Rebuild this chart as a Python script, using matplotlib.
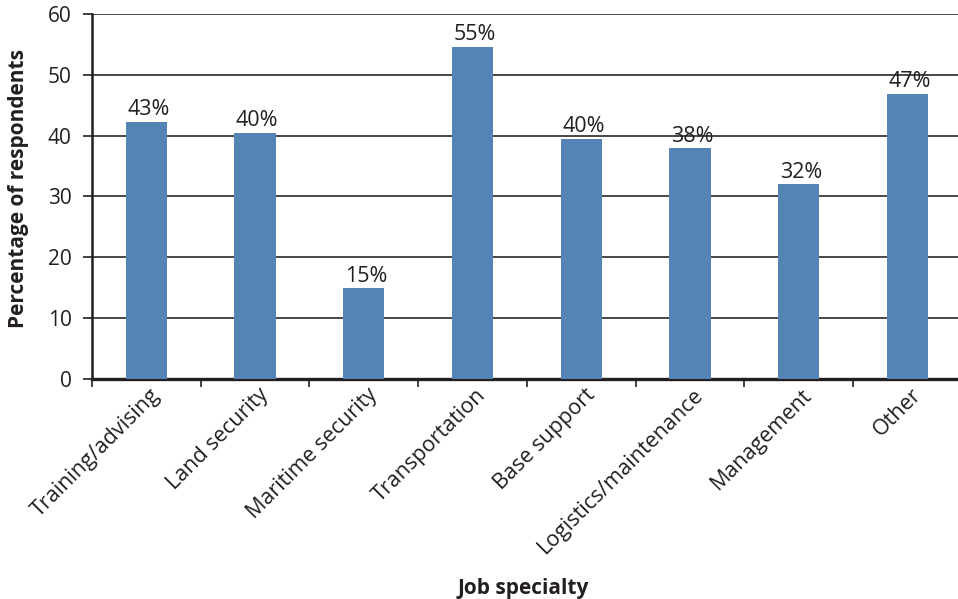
import matplotlib.pyplot as plt
import numpy as np
from matplotlib.transforms import ScaledTranslation

plt.rcParams['font.family'] = ['Open Sans', 'DejaVu Sans']
plt.rcParams['text.color'] = '#231f20'
plt.rcParams['xtick.color'] = '#231f20'
plt.rcParams['ytick.color'] = '#231f20'

# Data
specialties = ['Training/advising', 'Land security', 'Maritime security', 'Transportation',
               'Base support', 'Logistics/maintenance', 'Management', 'Other']
values = [42.3, 40.5, 15.0, 54.6, 39.5, 37.9, 32.0, 46.9]
labels = ['43%', '40%', '15%', '55%', '40%', '38%', '32%', '47%']

fig = plt.figure(figsize=(9.58, 5.99), dpi=100)
ax = fig.add_axes([0.096, 0.367, 0.908, 0.610])

x = np.arange(len(specialties))
ax.bar(x, values, width=0.38, color='#5384b5', zorder=3)

for xi, v, lab in zip(x, values, labels):
    ax.text(xi + 0.02, v + 0.2, lab, ha='center', va='bottom', fontsize=15.5)

ax.set_xlim(-0.5, len(specialties) - 0.5)
ax.set_ylim(0, 60)
ax.set_yticks(range(0, 61, 10))
ax.yaxis.grid(True, color='#2a2a2a', linewidth=1.2, zorder=0)
ax.set_axisbelow(True)

for s in ['top', 'right']:
    ax.spines[s].set_visible(False)
ax.spines['left'].set_linewidth(1.8)
ax.spines['left'].set_color('#231f20')
ax.spines['bottom'].set_linewidth(2.4)
ax.spines['bottom'].set_color('#231f20')

ax.tick_params(axis='y', length=6.5, width=1.2, labelsize=15, pad=8)
ax.set_xticks(x)
ax.set_xticklabels(specialties, rotation=45, ha='right', rotation_mode='anchor', fontsize=15.5)
ax.tick_params(axis='x', length=0, pad=4)
for lab in ax.get_xticklabels():
    lab.set_transform(lab.get_transform() + ScaledTranslation(0.03, 0, fig.dpi_scale_trans))
ax.set_xticks(np.arange(-0.5, len(specialties) - 0.5, 1), minor=True)
ax.tick_params(axis='x', which='minor', length=6, width=1.2, direction='out')

fig.text(0.019, 0.686, 'Percentage of respondents', rotation=90, ha='center', va='center',
         fontsize=15, fontweight='bold')
fig.text(0.546, 0.018, 'Job specialty', ha='center', va='center', fontsize=15, fontweight='bold')

fig.savefig('out.png', dpi=100)
